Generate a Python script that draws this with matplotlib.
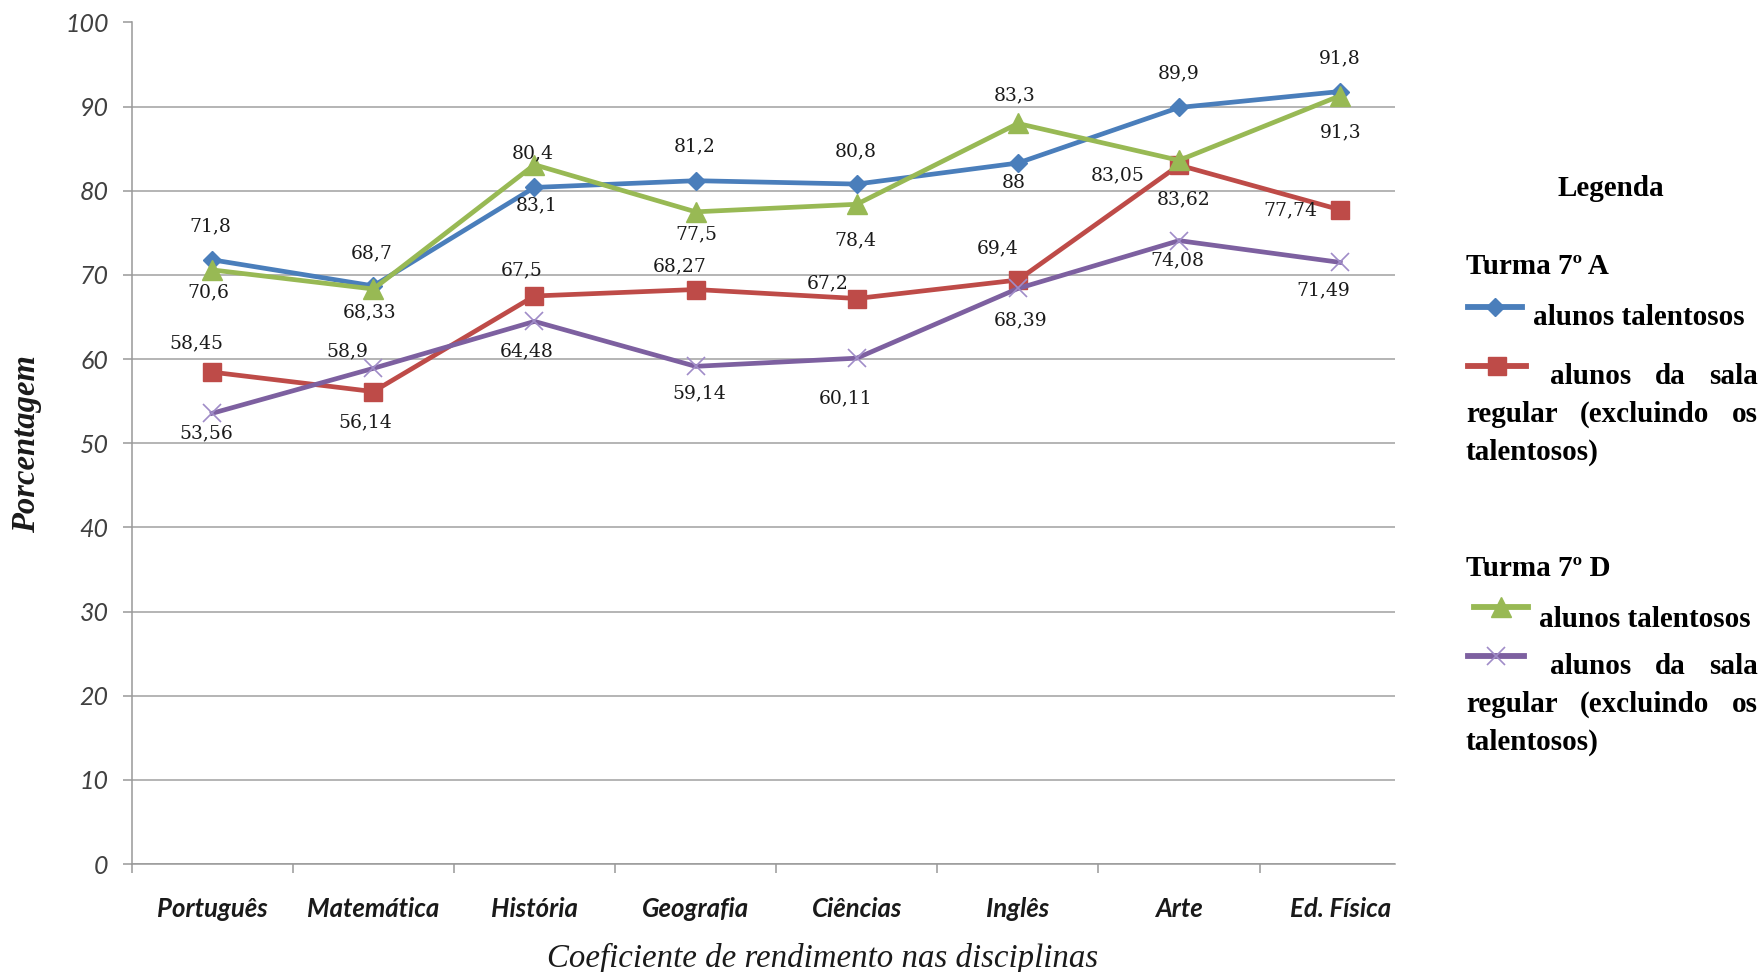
import matplotlib
matplotlib.use('Agg')
import matplotlib.pyplot as plt
from matplotlib.lines import Line2D

disciplinas = ['Português', 'Matemática', 'História', 'Geografia', 'Ciências', 'Inglês', 'Arte', 'Ed. Física']

# Turma 7º A
a_talentosos = [71.8, 68.7, 80.4, 81.2, 80.8, 83.3, 89.9, 91.8]
a_regular = [58.45, 56.14, 67.5, 68.27, 67.2, 69.4, 83.05, 77.74]
# Turma 7º D
d_talentosos = [70.6, 68.33, 83.1, 77.5, 78.4, 88, 83.62, 91.3]
d_regular = [53.56, 58.9, 64.48, 59.14, 60.11, 68.39, 74.08, 71.49]

yticks = list(range(0, 101, 10))

W, H = 1764, 972
fig = plt.figure(figsize=(W / 100, H / 100), dpi=100)
ax = fig.add_axes([131.6 / W, 1 - 864 / H, (1395 - 131.6) / W, (864 - 22.5) / H])

blue, red, green, purple = '#4A7EBB', '#BE4B48', '#98B954', '#7D60A0'
x = list(range(len(disciplinas)))

# the pdf this came from swaps the labels of the two "talentosos" series, keep it that way
# offsets in pixels (dx, dy), dy positive = down
series = [
    (a_talentosos, blue, dict(marker='D', ms=9.5, mfc=blue, mec=blue),
     [(-2, -33), (-2, -33), (-2, -11), (-1, -34), (-1, -33), (-3, -28), (0, -34), (0, -33)],
     [None, None, d_talentosos[2], None, None, d_talentosos[5], None, None]),
    (a_regular, red, dict(marker='s', ms=13, mfc=red, mec=red),
     [(-16, -29), (-8, 31), (-13, -26), (-16, -23), (-29, -15), (-20, -32), (-61, 10), (-50, 1)],
     [None] * 8),
    (d_talentosos, green, dict(marker='^', ms=14, mfc=green, mec=green),
     [(-4, 22), (-4, 23), (2, 18), (1, 23), (-1, 36), (-4, 20), (5, 39), (0, 37)],
     [None, None, a_talentosos[2], None, None, a_talentosos[5], None, None]),
    (d_regular, purple, dict(marker='x', ms=13, mec='#A08CC8', mew=1.2),
     [(-6, 20), (-26, -17), (-8, 30), (4, 27), (-11, 40), (3, 32), (-2, 20), (-17, 28)],
     [None] * 8),
]

for vals, col, mk, offs, anchor in series:
    ax.plot(x, vals, color=col, lw=3.4, solid_joinstyle='round', **mk, zorder=3)

for vals, col, mk, offs, anchor in series:
    for i, v in enumerate(vals):
        yv = anchor[i] if anchor[i] is not None else v
        ax.annotate(f'{v:g}'.replace('.', ','), (i, yv), xytext=(offs[i][0], -offs[i][1]),
                    textcoords='offset pixels', ha='center', va='center',
                    fontsize=13.5, family='DejaVu Serif', color='#1a1a1a', zorder=5)

ax.set_xlim(-0.5, 7.34)
ax.set_ylim(0, 100)
ax.set_yticks(yticks)
ax.set_yticklabels([str(t) for t in yticks], fontsize=18, family='Lato', style='italic', color='#404040')
ax.set_xticks(x)
ax.set_xticklabels(disciplinas, fontsize=18.5, family='Lato', style='italic', weight='bold', color='#1a1a1a')
ax.set_xticks([i - 0.5 for i in x], minor=True)
ax.tick_params(axis='x', which='major', length=0, pad=24)
ax.tick_params(axis='x', which='minor', length=6.5, color='#999999', width=1.1)
ax.tick_params(axis='y', length=6.5, color='#999999', width=1.1, pad=10)
ax.grid(axis='y', color='#a0a0a0', lw=1.1)
ax.set_axisbelow(True)
for s in ['top', 'right']:
    ax.spines[s].set_visible(False)
for s in ['left', 'bottom']:
    ax.spines[s].set_color('#999999')
    ax.spines[s].set_linewidth(1.1)

fig.text(823 / W, 1 - 958 / H, 'Coeficiente de rendimento nas disciplinas', ha='center', va='center',
         fontsize=23.7, family='Liberation Serif', style='italic', color='#1a1a1a')
fig.text(27 / W, 1 - 444 / H, 'Porcentagem', ha='center', va='center', rotation=90,
         fontsize=23.5, family='Liberation Serif', style='italic', weight='bold', color='#1a1a1a')

# legend drawn by hand, justified text as in the original
lg = dict(fontsize=21, family='Liberation Serif', weight='bold', color='black', va='center')
renderer = fig.canvas.get_renderer()


def px_text(xp, yp, s, **kw):
    return fig.text(xp / W, 1 - yp / H, s, **kw)


def justified(words, x0, x1, yp):
    texts = [px_text(x0, yp, w, ha='left', **lg) for w in words]
    widths = [t.get_window_extent(renderer).width for t in texts]
    gap = (x1 - x0 - sum(widths)) / (len(words) - 1)
    pos = x0
    for t, w in zip(texts, widths):
        t.set_x(pos / W)
        pos += w + gap


def legend_line(x0, x1, yp, col, mk):
    xs = [x0 / W, (x0 + x1) / 2 / W, x1 / W]
    ys = [1 - yp / H] * 3
    fig.add_artist(Line2D(xs, ys, color=col, lw=4.2, transform=fig.transFigure, markevery=[1], **mk))


px_text(1611, 189, 'Legenda', ha='center', **lg)
px_text(1466, 266, 'Turma 7º A', ha='left', **lg)
legend_line(1468, 1522, 307, blue, series[0][2])
px_text(1533, 317, 'alunos talentosos', ha='left', **lg)
legend_line(1468, 1526, 366, red, series[1][2])
justified(['alunos', 'da', 'sala'], 1550, 1758, 376)
justified(['regular', '(excluindo', 'os'], 1466, 1758, 414)
px_text(1466, 452, 'talentosos)', ha='left', **lg)

px_text(1466, 568, 'Turma 7º D', ha='left', **lg)
legend_line(1474, 1528, 607, green, series[2][2])
px_text(1539, 619, 'alunos talentosos', ha='left', **lg)
legend_line(1468, 1524, 656, purple, series[3][2])
justified(['alunos', 'da', 'sala'], 1550, 1758, 666)
justified(['regular', '(excluindo', 'os'], 1466, 1758, 704)
px_text(1466, 742, 'talentosos)', ha='left', **lg)

fig.savefig('out.png', dpi=100)
